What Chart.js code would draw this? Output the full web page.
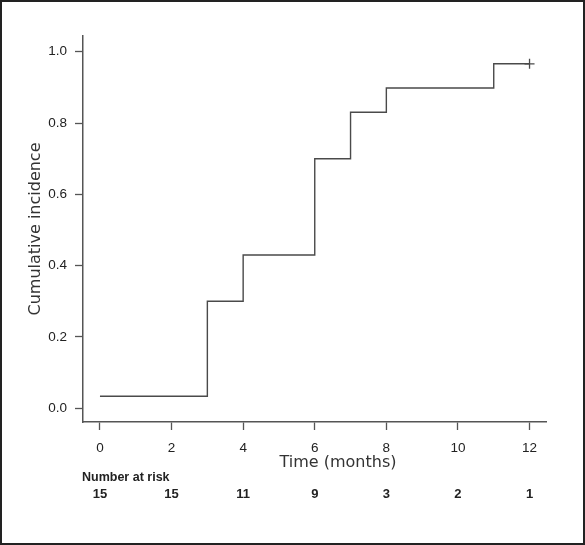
<!DOCTYPE html>
<html>
<head>
<meta charset="utf-8">
<script src="https://cdn.jsdelivr.net/npm/chart.js@4.4.0/dist/chart.umd.min.js"></script>
<style>
  body { margin: 0; background: #fff; }
  canvas { display: block; }
</style>
</head>
<body>
<canvas id="chartKM" width="585" height="545"></canvas>
<script>
// data
const times = [0, 3, 4, 6, 7, 8, 11, 12];
const incidence = [0.034, 0.30, 0.43, 0.70, 0.83, 0.898, 0.966, 0.966];
const censorTimes = [12];
const censorValues = [0.966];
const xTicks = [0, 2, 4, 6, 8, 10, 12];
const yTicks = [0, 0.2, 0.4, 0.6, 0.8, 1.0];
const riskTimes = [0, 2, 4, 6, 8, 10, 12];
const atRisk = [15, 15, 11, 9, 3, 2, 1];

const lineColor = "#4a4a4a";
const axisColor = "#555";

// "Number at risk" table, x axis title and frame
const riskTable = {
  id: "riskTable",
  afterDraw(chart) {
    const ctx = chart.ctx;
    const xs = chart.scales.x;
    ctx.save();
    ctx.fillStyle = "#333";
    ctx.textBaseline = "middle";
    ctx.textAlign = "center";
    ctx.font = "16px 'DejaVu Sans'";
    ctx.fillText("Time (months)", 338, 463);

    ctx.fillStyle = "#222";
    ctx.font = "bold 12.5px 'Liberation Sans'";
    ctx.textAlign = "left";
    ctx.fillText("Number at risk", 82, 478);

    ctx.textAlign = "center";
    ctx.font = "bold 13px 'Liberation Sans'";
    atRisk.forEach((n, i) => {
      ctx.fillText(String(n), xs.getPixelForValue(riskTimes[i]), 494);
    });

    ctx.strokeStyle = "#222";
    ctx.lineWidth = 2;
    ctx.strokeRect(1, 1, chart.width - 2, chart.height - 2);
    ctx.restore();
  }
};

Chart.defaults.font.family = "'Liberation Sans', Arial, sans-serif";

new Chart(document.getElementById("chartKM"), {
  data: {
    datasets: [{
      type: "line",
      data: times.map((t, i) => ({ x: t, y: incidence[i] })),
      stepped: "before",
      borderColor: lineColor,
      borderWidth: 1.4,
      pointRadius: 0,
      fill: false
    }, {
      type: "scatter",
      data: censorTimes.map((t, i) => ({ x: t, y: censorValues[i] })),
      pointStyle: "cross",
      pointRadius: 5,
      borderColor: lineColor,
      borderWidth: 1.3
    }]
  },
  options: {
    responsive: false,
    animation: false,
    layout: { padding: { top: 36, right: 39, left: 0, bottom: 0 } },
    plugins: {
      legend: { display: false },
      tooltip: { enabled: false }
    },
    scales: {
      x: {
        type: "linear",
        min: -0.474,
        max: 12.46,
        afterBuildTicks: s => { s.ticks = xTicks.map(v => ({ value: v })); },
        afterFit: s => { s.height = 123; },
        grid: { drawOnChartArea: false, drawTicks: true, tickLength: 8, tickWidth: 1.3, tickColor: axisColor },
        border: { display: true, color: axisColor, width: 1.5 },
        ticks: { color: "#222", padding: 10, font: { size: 13.5 } }
      },
      y: {
        type: "linear",
        min: -0.0384,
        max: 1.044,
        afterBuildTicks: s => { s.ticks = yTicks.map(v => ({ value: v })); },
        afterFit: s => { s.width = 83; },
        grid: { drawOnChartArea: false, drawTicks: true, tickLength: 8, tickWidth: 1.3, tickColor: axisColor },
        border: { display: true, color: axisColor, width: 1.5 },
        ticks: { color: "#222", padding: 8, font: { size: 13.5 }, callback: v => v.toFixed(1) },
        title: {
          display: true,
          text: "Cumulative incidence",
          color: "#333",
          font: { family: "'DejaVu Sans'", size: 16 },
          padding: { top: 26 }
        }
      }
    }
  },
  plugins: [riskTable]
});
</script>
</body>
</html>
